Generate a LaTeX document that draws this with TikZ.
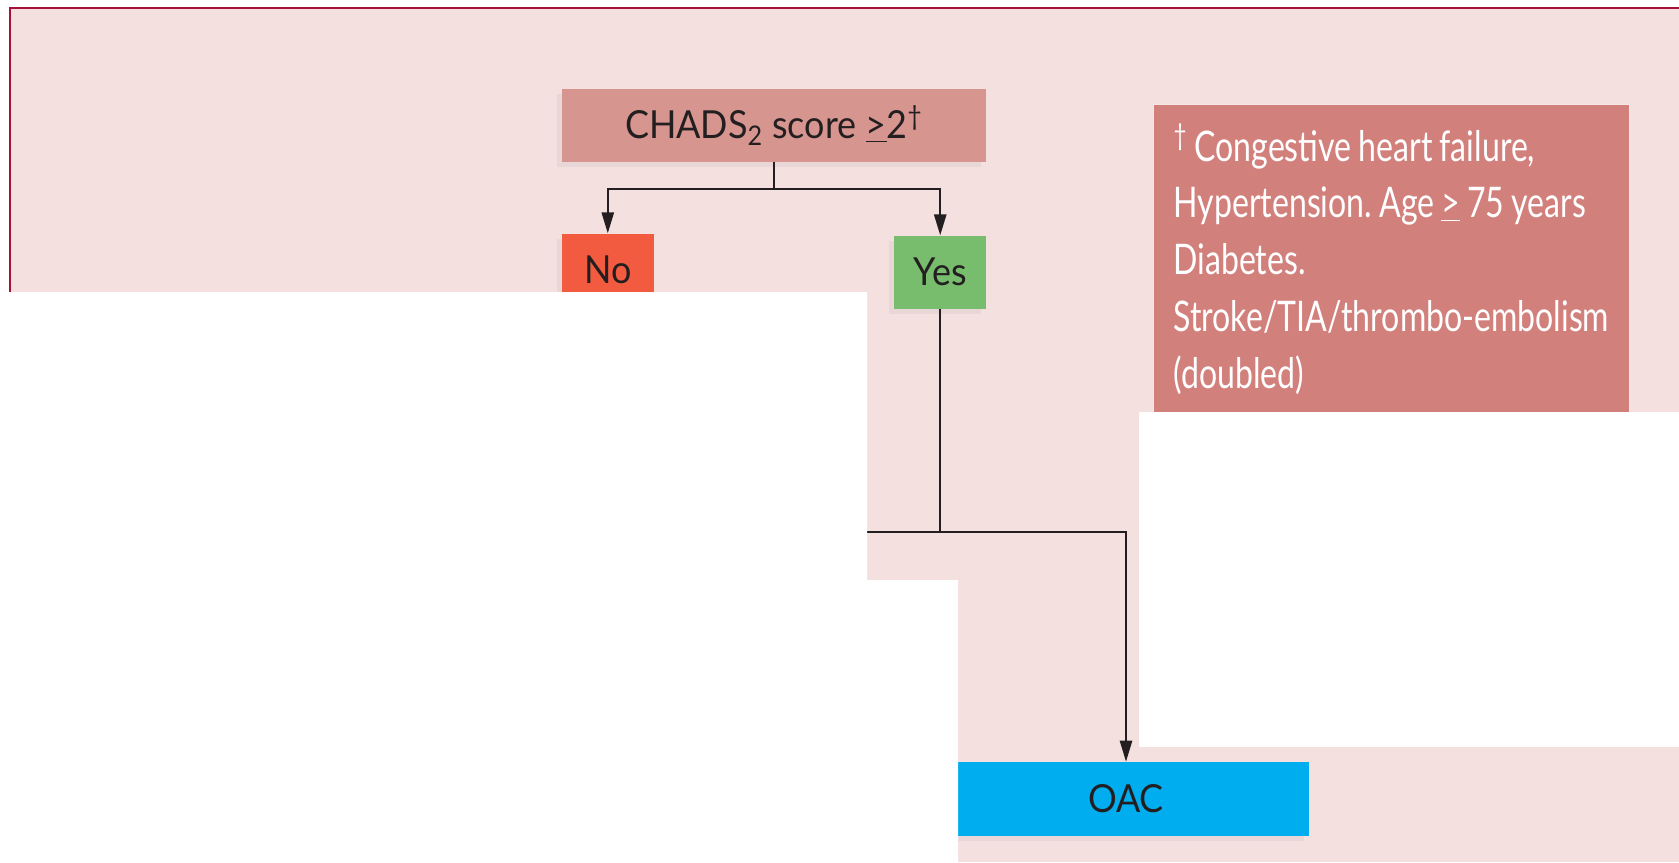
\documentclass[tikz,border=0pt]{standalone}
\usepackage{fontspec}
\setmainfont{Lato}
\newfontfamily\boxfont{Lato}[FakeStretch=0.93]
\newfontfamily\notefont{Lato}[FakeStretch=0.76]
\usepackage{tikz}
\usetikzlibrary{arrows.meta, positioning, shadows, calc}
\frenchspacing
\definecolor{bgpink}{HTML}{F5E0E0}
\definecolor{framered}{HTML}{A8123A}
\definecolor{chadsfill}{HTML}{D79590}
\definecolor{notefill}{HTML}{D2807C}
\definecolor{nofill}{HTML}{F25B3F}
\definecolor{yesfill}{HTML}{78BC6E}
\definecolor{oacfill}{HTML}{00AEEF}
\definecolor{inkdark}{HTML}{231F20}
\tikzstyle{box} = [rectangle, inner sep=0pt, minimum height=1.46cm, text centered, text=inkdark, font=\boxfont\fontsize{22}{26}\selectfont, drop shadow={shadow xshift=-3pt, shadow yshift=-3pt, opacity=0.1}]
\tikzstyle{notebox} = [rectangle, fill=notefill, draw=white!80!notefill, line width=0.6pt, text=white, align=left, inner xsep=0.4cm, inner ysep=0.38cm, text depth=5.4cm, font=\notefont\fontsize{24}{32.3}\selectfont, execute at begin node={\hyphenpenalty=10000 \exhyphenpenalty=10000 \spaceskip=0.17em plus 0.02em\relax}]
\tikzstyle{connector} = [line width=1.1pt, draw=inkdark]
\tikzstyle{arrow} = [connector, -{Triangle[length=12pt, width=7pt]}]
\tikzstyle{whiteout} = [fill=white, draw=none]

\begin{document}
\begin{tikzpicture}[x=0.02cm, y=-0.02cm]
  \useasboundingbox (0,0) rectangle (1679,862);

  % Panel
  \fill[bgpink] (10,8) rectangle (1679,862);
  \draw[framered, line width=1.7pt] (10,862) -- (10,8) -- (1679,8);

  % Decision
  \node[box, fill=chadsfill, minimum width=8.48cm] (chads) at (774,125.5) {CHADS\textsubscript{2} score \underline{>}2\textsuperscript{†}};
  \node[box, fill=nofill, minimum width=1.83cm, below right=1.42cm and 0cm of chads.south west] (no) {No};
  \node[box, fill=yesfill, minimum width=1.83cm, below left=1.46cm and 0cm of chads.south east] (yes) {Yes};

  % Footnote
  \node[notebox, text width=8.72cm, anchor=north west] (note) at (1153,104) {\textsuperscript{†}\,Congestive heart failure,\\
    Hypertension. Age \underline{>} 75 years\\
    Diabetes.\\
    Stroke/TIA/thrombo-embolism\\
    (doubled)};

  % Treatment
  \node[box, fill=oacfill, minimum width=7.32cm, minimum height=1.48cm] (oac) at (1126,799) {OAC};

  % Connectors
  \coordinate (split) at ($(chads.south)+(0,27)$);
  \coordinate (fork) at ($(yes.south)+(0,223)$);
  \coordinate (forkend) at ($(fork)+(-150,0)$);
  \draw[connector] (chads.south) -- (split);
  \draw[arrow] (split) -| (no.north);
  \draw[arrow] (split) -| (yes.north);
  \draw[connector] (yes.south) -- (fork);
  \draw[arrow] (forkend) -| (oac.north);

  % Masked areas
  \fill[whiteout] (0,292) -- (867,292) -- (867,580) -- (958,580) -- (958,862) -- (0,862) -- cycle;
  \fill[whiteout] (1139,412) rectangle (1679,747);
\end{tikzpicture}
\end{document}
